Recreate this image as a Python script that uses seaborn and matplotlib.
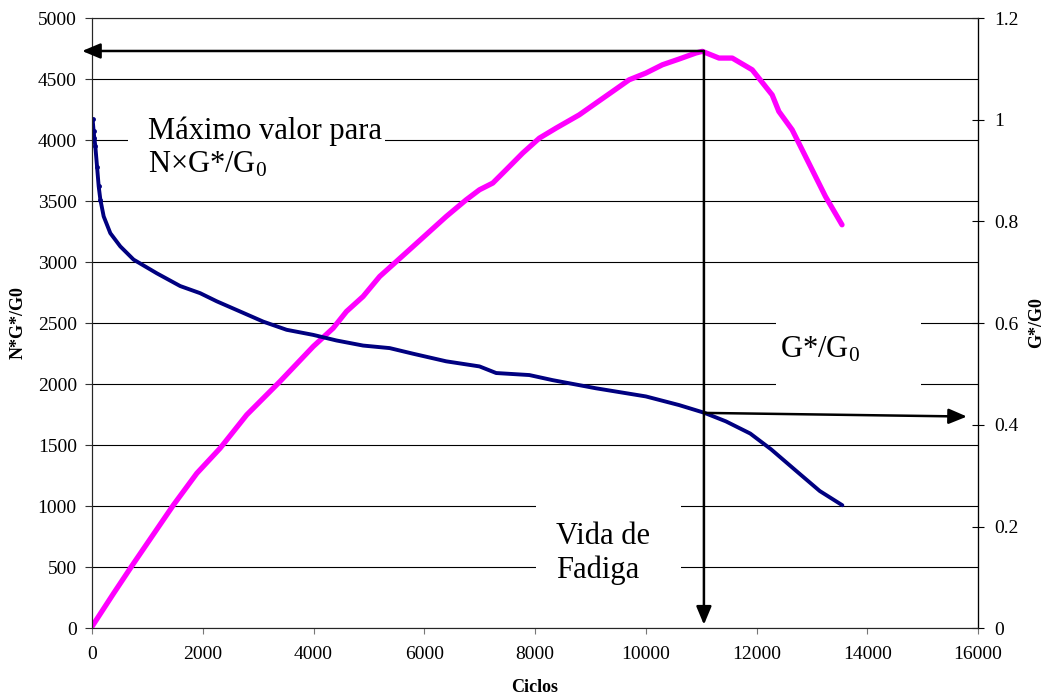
import matplotlib
matplotlib.use("Agg")
import matplotlib.pyplot as plt
from matplotlib.patches import Rectangle
from matplotlib.ticker import FuncFormatter
import seaborn as sns

# G*/G0 (right axis)
ciclos_g = [10, 29, 41, 59, 90, 120, 150, 210, 330, 510, 750, 1171, 1592, 1952,
            2252, 2673, 3093, 3514, 3994, 4414, 4895, 5375, 5796, 6396, 6997,
            7298, 7898, 8318, 9100, 10001, 10601, 11052, 11446, 11887, 12263,
            12701, 13142, 13550]
g_ratio = [1.001, 0.977, 0.964, 0.948, 0.908, 0.869, 0.843, 0.810, 0.777, 0.751,
           0.725, 0.698, 0.673, 0.659, 0.643, 0.623, 0.603, 0.587, 0.577, 0.566,
           0.556, 0.551, 0.540, 0.525, 0.515, 0.502, 0.498, 0.488, 0.472, 0.456,
           0.439, 0.424, 0.407, 0.383, 0.352, 0.311, 0.270, 0.242]

# N*G*/G0 (left axis)
ciclos_n = [0, 390, 751, 1141, 1471, 1892, 2312, 2793, 3393, 3994, 4354, 4595,
            4895, 5195, 5495, 5796, 6096, 6396, 6757, 6997, 7237, 7478, 7778,
            8078, 8379, 8799, 9100, 9399, 9700, 10001, 10300, 10601, 10902,
            11021, 11322, 11562, 11922, 12283, 12403, 12643, 12944, 13245, 13544]
ng_ratio = [15, 287, 533, 792, 1011, 1270, 1475, 1749, 2022, 2309, 2459, 2596,
            2719, 2883, 3005, 3128, 3251, 3374, 3511, 3593, 3648, 3757, 3894,
            4016, 4098, 4207, 4303, 4398, 4494, 4549, 4617, 4664, 4713,
            4727, 4672, 4672, 4576, 4370, 4235, 4085, 3812, 3538, 3306]

x_ticks = list(range(0, 16001, 2000))
left_ticks = list(range(0, 5001, 500))
right_ticks = [0, 0.2, 0.4, 0.6, 0.8, 1.0, 1.2]

# annotation points (cycles / N*G*/G0)
vida_fadiga = 11050
max_valor = 4730
g_at_vida = 1765

sns.set_style("white")
plt.rcParams["font.family"] = ["Liberation Serif", "DejaVu Serif"]
plt.rcParams["mathtext.fontset"] = "custom"
plt.rcParams["mathtext.rm"] = "Liberation Serif"
plt.rcParams["mathtext.it"] = "Liberation Serif:italic"
plt.rcParams["mathtext.default"] = "rm"
plt.rcParams["text.color"] = "black"
plt.rcParams["xtick.color"] = "black"
plt.rcParams["ytick.color"] = "black"

fig = plt.figure(figsize=(10.46, 6.99), dpi=100)
ax = fig.add_axes([0.088, 0.1011, 0.847, 0.8731])
ax2 = ax.twinx()

sns.lineplot(x=ciclos_n, y=ng_ratio, ax=ax, color="#ff00ff", linewidth=3.8,
             solid_capstyle="round", solid_joinstyle="round", zorder=2)
sns.lineplot(x=ciclos_g, y=g_ratio, ax=ax2, color="#000080", linewidth=2.8,
             marker="o", markersize=3.5, markeredgewidth=0, markevery=range(0, 7),
             solid_capstyle="round", solid_joinstyle="round", zorder=2)

ax.set_xlim(0, 16000)
ax.set_ylim(0, 5000)
ax2.set_ylim(0, 1.2)
ax.set_xticks(x_ticks)
ax.set_yticks(left_ticks)
ax2.set_yticks(right_ticks)
ax2.yaxis.set_major_formatter(FuncFormatter(lambda v, p: f"{v:g}"))

ax.grid(axis="y", color="black", linewidth=0.8)
ax.set_axisbelow(True)
ax2.grid(False)

ax.tick_params(axis="y", direction="out", length=5, width=0.8, pad=6,
               labelsize=14, left=True, color="#333333", labelcolor="black")
ax.tick_params(axis="x", direction="out", length=4, width=0.8, pad=9,
               labelsize=14, bottom=True, color="#777777", labelcolor="black")
ax2.tick_params(axis="y", direction="inout", length=9, width=0.8, pad=7,
                labelsize=14, right=True, color="black", labelcolor="black")

ax.spines["left"].set_color("#333333")
ax.spines["bottom"].set_color("#888888")
ax.spines["top"].set_color("#999999")
ax2.spines["right"].set_color("black")
for s in ax.spines.values():
    s.set_linewidth(0.8)
ax2.spines["right"].set_linewidth(0.9)

ax.set_xlabel("")
ax.set_ylabel("")
ax2.set_ylabel("")
fig.text(535 / 1046, 1 - 688 / 699, "Ciclos", ha="center", va="center",
         fontsize=13, fontweight="bold")
fig.text(18.5 / 1046, 1 - 323 / 699, "N*G*/G0", ha="center", va="center",
         rotation=90, fontsize=13, fontweight="bold")
fig.text(1037 / 1046, 1 - 323 / 699, "G*/G0", ha="center", va="center",
         rotation=90, fontsize=13, fontweight="bold")

# white text boxes that cut the gridlines
for (x0, x1, y0, y1) in [(650, 5292, 3593, 4331), (12353, 14972, 1871, 2691),
                         (8019, 10637, 314, 1093)]:
    ax.add_patch(Rectangle((x0, y0), x1 - x0, y1 - y0, facecolor="white",
                           edgecolor="none", zorder=1))

ax.text(1011, 3937, "Máximo valor para\nN×G*/G$_0$", fontsize=22,
        ha="left", va="center", zorder=3)
ax.text(12425, 2281, "G*/G$_0$", fontsize=22, ha="left", va="center", zorder=3)
ax.text(8380, 609, "Vida de\nFadiga", fontsize=22, ha="left", va="center", zorder=3)

arrow = dict(arrowstyle="-|>,head_length=0.55,head_width=0.23", color="black",
             lw=1.8, mutation_scale=20, shrinkA=0, shrinkB=0)
ax2.annotate("", xy=(-180, max_valor), xytext=(vida_fadiga, max_valor),
             xycoords=ax.transData, textcoords=ax.transData,
             arrowprops=arrow, annotation_clip=False, zorder=5)
ax2.annotate("", xy=(vida_fadiga, 30), xytext=(vida_fadiga, max_valor),
             xycoords=ax.transData, textcoords=ax.transData,
             arrowprops=arrow, annotation_clip=False, zorder=5)
ax2.annotate("", xy=(15800, 1735), xytext=(vida_fadiga, g_at_vida),
             xycoords=ax.transData, textcoords=ax.transData,
             arrowprops=arrow, annotation_clip=False, zorder=5)

fig.savefig("out.png", dpi=100)
